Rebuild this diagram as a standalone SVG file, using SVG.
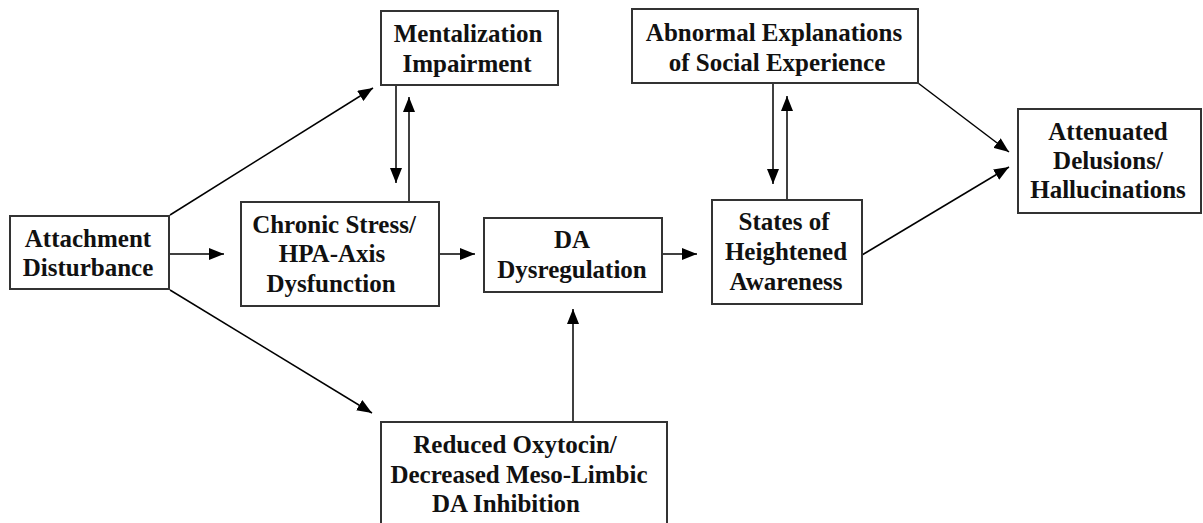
<svg xmlns="http://www.w3.org/2000/svg" width="1203" height="523" viewBox="0 0 1203 523">
<style>
.box{fill:#fff;stroke:#333;stroke-width:2}
.t{font-family:"Liberation Serif","Times New Roman",serif;font-weight:bold;font-size:25px;fill:#111;text-anchor:middle}
.c{stroke:#000;stroke-width:1.5;fill:none;marker-end:url(#ah)}
.n{stroke:#000;stroke-width:1.5;fill:none}
</style>
<defs>
<marker id="ah" markerUnits="userSpaceOnUse" markerWidth="16" markerHeight="12" refX="15" refY="6" orient="auto">
<path d="M0,0 L15,6 L0,12 z" fill="#000"/>
</marker>
</defs>
<rect width="1203" height="523" fill="#fff"/>
<g id="connectors">
<line class="c" x1="170" y1="215" x2="373" y2="88"/>
<line class="c" x1="170" y1="254" x2="224" y2="254"/>
<line class="c" x1="170" y1="290" x2="372" y2="413"/>
<line class="c" x1="396" y1="85" x2="396" y2="183"/>
<line class="c" x1="409" y1="202" x2="409" y2="97"/>
<line class="c" x1="439" y1="254" x2="475" y2="254"/>
<line class="c" x1="573" y1="422" x2="573" y2="309"/>
<line class="c" x1="662" y1="254" x2="697" y2="254"/>
<line class="c" x1="773" y1="83" x2="773" y2="184"/>
<line class="c" x1="787" y1="200" x2="787" y2="96"/>
<line class="c" x1="918" y1="83" x2="1009" y2="152"/>
<line class="c" x1="862" y1="255" x2="1009" y2="167"/>
</g>
<g id="attachment">
<rect class="box" x="10" y="216" width="159" height="73"/>
<text class="t" x="88" y="247">Attachment</text>
<text class="t" x="88" y="276">Disturbance</text>
</g>
<g id="mentalization">
<rect class="box" x="381" y="11" width="177" height="74"/>
<text class="t" x="468" y="42">Mentalization</text>
<text class="t" x="467" y="72">Impairment</text>
</g>
<g id="chronic">
<rect class="box" x="241" y="202" width="198" height="104"/>
<text class="t" x="334" y="233">Chronic Stress/</text>
<text class="t" x="332" y="262">HPA-Axis</text>
<text class="t" x="331" y="292">Dysfunction</text>
</g>
<g id="da">
<rect class="box" x="484" y="218" width="178" height="74"/>
<text class="t" x="572" y="248">DA</text>
<text class="t" x="572" y="278">Dysregulation</text>
</g>
<g id="states">
<rect class="box" x="712" y="200" width="150" height="104"/>
<text class="t" x="784" y="230">States of</text>
<text class="t" x="786" y="260">Heightened</text>
<text class="t" x="786" y="290">Awareness</text>
</g>
<g id="abnormal">
<rect class="box" x="632" y="9" width="286" height="74"/>
<text class="t" x="774" y="41">Abnormal Explanations</text>
<text class="t" x="777" y="71">of Social Experience</text>
</g>
<g id="attenuated">
<rect class="box" x="1018" y="109" width="183" height="104"/>
<text class="t" x="1108" y="140">Attenuated</text>
<text class="t" x="1108" y="169">Delusions/</text>
<text class="t" x="1108" y="198">Hallucinations</text>
</g>
<g id="reduced">
<rect class="box" x="381" y="422" width="286" height="110"/>
<text class="t" x="515" y="453">Reduced Oxytocin/</text>
<text class="t" x="519" y="483">Decreased Meso-Limbic</text>
<text class="t" x="506" y="512">DA Inhibition</text>
</g>
</svg>
